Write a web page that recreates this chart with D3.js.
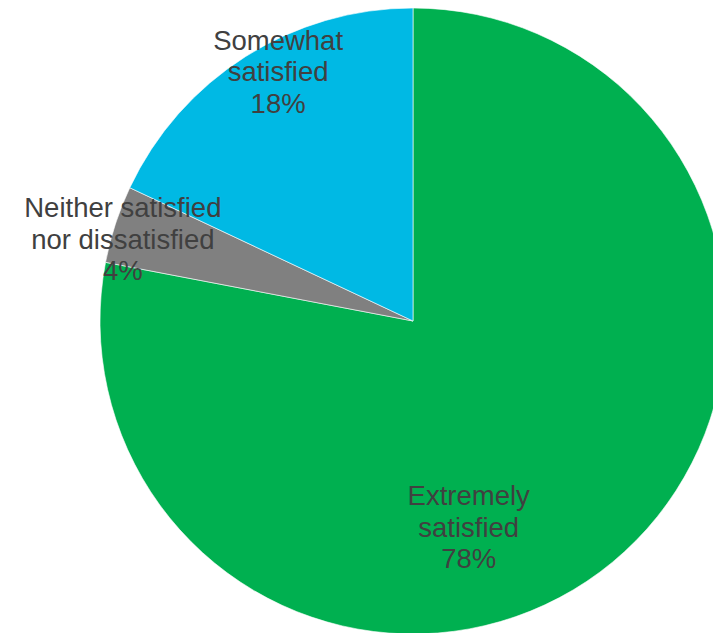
<!DOCTYPE html>
<html>
<head>
<meta charset="utf-8">
<script src="https://cdn.jsdelivr.net/npm/d3@7"></script>
<style>
  html, body { margin: 0; padding: 0; background: #ffffff; overflow: hidden; }
  svg { display: block; }
</style>
</head>
<body>
<svg id="chart" width="713" height="633"></svg>
<script>
// Satisfaction survey breakdown, drawn clockwise from 12 o'clock
const categories = ["Extremely satisfied", "Neither satisfied nor dissatisfied", "Somewhat satisfied"];
const labelLines = [["Extremely", "satisfied"], ["Neither satisfied", "nor dissatisfied"], ["Somewhat", "satisfied"]];
const values = [78, 4, 18];
const colors = ["#00B050", "#808080", "#00B9E4"];

// Label anchors, as offsets from the pie centre in units of the radius
const labelOffsets = [[0.178, 0.657], [-0.927, -0.262], [-0.431, -0.798]];

const width = 713, height = 633;
const cx = 413, cy = 321, radius = 313;

const svg = d3.select("#chart");
const g = svg.append("g").attr("transform", `translate(${cx},${cy})`);

const pie = d3.pie().sort(null).value(d => d.value);
const arc = d3.arc().innerRadius(0).outerRadius(radius);

const rows = categories.map((c, i) => ({ name: c, value: values[i], color: colors[i], lines: labelLines[i], off: labelOffsets[i] }));
const arcs = pie(rows);

g.selectAll("path.slice")
  .data(arcs)
  .join("path")
  .attr("class", "slice")
  .attr("d", arc)
  .attr("fill", d => d.data.color)
  .attr("stroke", "#ffffff")
  .attr("stroke-width", 0.6);

const fontSize = 27.5, lineGap = 31.5;
const labels = g.selectAll("text.lbl")
  .data(arcs)
  .join("text")
  .attr("class", "lbl")
  .attr("text-anchor", "middle")
  .attr("font-family", "'Liberation Sans', Arial, sans-serif")
  .attr("font-size", fontSize)
  .attr("fill", "#404040")
  .attr("transform", d => `translate(${d.data.off[0] * radius},${d.data.off[1] * radius})`);

labels.each(function(d) {
  const lines = d.data.lines.concat([d3.format(".0f")(d.data.value) + "%"]);
  const t = d3.select(this);
  lines.forEach((ln, i) => {
    t.append("tspan")
      .attr("x", 0)
      .attr("y", (i - (lines.length - 1) / 2) * lineGap + fontSize * 0.36)
      .text(ln);
  });
});
</script>
</body>
</html>
